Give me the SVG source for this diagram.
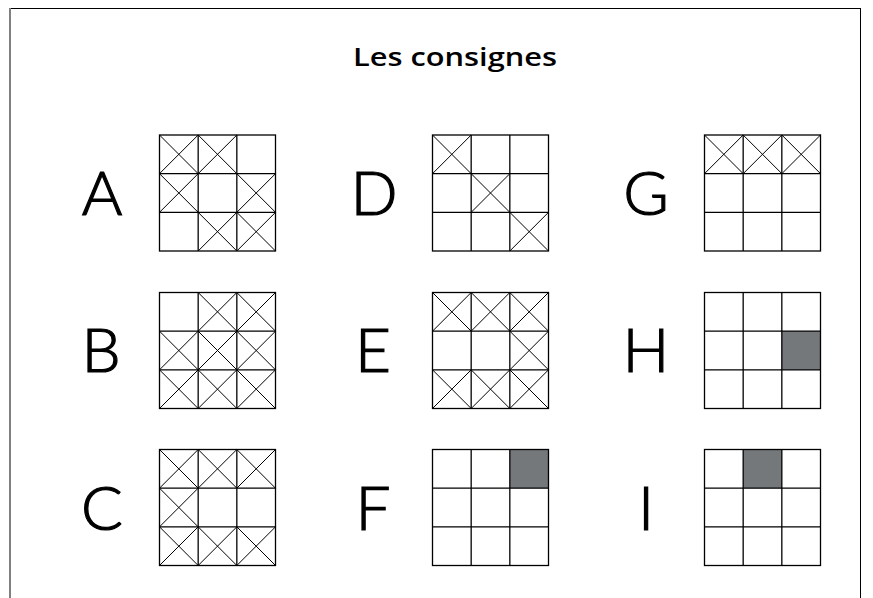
<svg xmlns="http://www.w3.org/2000/svg" xmlns:xlink="http://www.w3.org/1999/xlink" width="873" height="598" viewBox="0 0 873 598">
<style>
.ln{stroke:#000;stroke-width:1.3;fill:none}
.dg{stroke:#000;stroke-width:1;fill:none}
.sh{fill:#75787b;stroke:none}
.lt{font-family:Lato,"Open Sans","DejaVu Sans",sans-serif;font-size:62px;font-weight:300;fill:#000;text-anchor:middle;stroke:#000;stroke-width:1.2}
.tt{font-family:"Open Sans",Lato,"DejaVu Sans",sans-serif;font-size:25px;font-weight:600;fill:#000;text-anchor:middle}
</style>
<defs>
<path id="x" class="dg" d="M0,0L38.67,38.67M38.67,0L0,38.67"/>
<g id="grid"><rect class="ln" x="0" y="0" width="116" height="116"/><path class="ln" d="M38.67,0V116M77.33,0V116M0,38.67H116M0,77.33H116"/></g>
</defs>
<rect x="0" y="0" width="873" height="598" fill="#fff"/>
<g id="frame">
<path d="M9,8.5H860" stroke="#000" stroke-width="1"/>
<path d="M10,8V598" stroke="#808080" stroke-width="2"/>
<path d="M860.5,8V598" stroke="#000" stroke-width="1"/>
</g>
<text id="title" class="tt" x="455" y="66" textLength="204" lengthAdjust="spacingAndGlyphs">Les consignes</text>
<g id="A">
<text class="lt" x="102" y="215">A</text>
<g transform="translate(159.5,135)">
<use xlink:href="#x" x="0" y="0"/><use xlink:href="#x" x="38.67" y="0"/>
<use xlink:href="#x" x="0" y="38.67"/><use xlink:href="#x" x="77.33" y="38.67"/>
<use xlink:href="#x" x="38.67" y="77.33"/><use xlink:href="#x" x="77.33" y="77.33"/>
<use xlink:href="#grid"/>
</g>
</g>
<g id="D">
<text class="lt" x="374" y="215">D</text>
<g transform="translate(432.5,135)">
<use xlink:href="#x" x="0" y="0"/><use xlink:href="#x" x="38.67" y="38.67"/><use xlink:href="#x" x="77.33" y="77.33"/>
<use xlink:href="#grid"/>
</g>
</g>
<g id="G">
<text class="lt" x="646" y="215">G</text>
<g transform="translate(704.5,135)">
<use xlink:href="#x" x="0" y="0"/><use xlink:href="#x" x="38.67" y="0"/><use xlink:href="#x" x="77.33" y="0"/>
<use xlink:href="#grid"/>
</g>
</g>
<g id="B">
<text class="lt" x="101" y="372">B</text>
<g transform="translate(159.5,292.5)">
<use xlink:href="#x" x="38.67" y="0"/><use xlink:href="#x" x="77.33" y="0"/>
<use xlink:href="#x" x="0" y="38.67"/><use xlink:href="#x" x="38.67" y="38.67"/><use xlink:href="#x" x="77.33" y="38.67"/>
<use xlink:href="#x" x="0" y="77.33"/><use xlink:href="#x" x="38.67" y="77.33"/><use xlink:href="#x" x="77.33" y="77.33"/>
<use xlink:href="#grid"/>
</g>
</g>
<g id="E">
<text class="lt" x="373" y="372">E</text>
<g transform="translate(432.5,292.5)">
<use xlink:href="#x" x="0" y="0"/><use xlink:href="#x" x="38.67" y="0"/><use xlink:href="#x" x="77.33" y="0"/>
<use xlink:href="#x" x="77.33" y="38.67"/>
<use xlink:href="#x" x="0" y="77.33"/><use xlink:href="#x" x="38.67" y="77.33"/><use xlink:href="#x" x="77.33" y="77.33"/>
<use xlink:href="#grid"/>
</g>
</g>
<g id="H">
<text class="lt" x="646" y="372">H</text>
<g transform="translate(704.5,292.5)">
<rect class="sh" x="77.33" y="38.67" width="38.67" height="38.67"/>
<use xlink:href="#grid"/>
</g>
</g>
<g id="C">
<text class="lt" x="102" y="530">C</text>
<g transform="translate(159.5,449.5)">
<use xlink:href="#x" x="0" y="0"/><use xlink:href="#x" x="38.67" y="0"/><use xlink:href="#x" x="77.33" y="0"/>
<use xlink:href="#x" x="0" y="38.67"/>
<use xlink:href="#x" x="0" y="77.33"/><use xlink:href="#x" x="38.67" y="77.33"/><use xlink:href="#x" x="77.33" y="77.33"/>
<use xlink:href="#grid"/>
</g>
</g>
<g id="F">
<text class="lt" x="373" y="530">F</text>
<g transform="translate(432.5,449.5)">
<rect class="sh" x="77.33" y="0" width="38.67" height="38.67"/>
<use xlink:href="#grid"/>
</g>
</g>
<g id="I">
<text class="lt" x="646" y="530">I</text>
<g transform="translate(704.5,449.5)">
<rect class="sh" x="38.67" y="0" width="38.67" height="38.67"/>
<use xlink:href="#grid"/>
</g>
</g>
</svg>
